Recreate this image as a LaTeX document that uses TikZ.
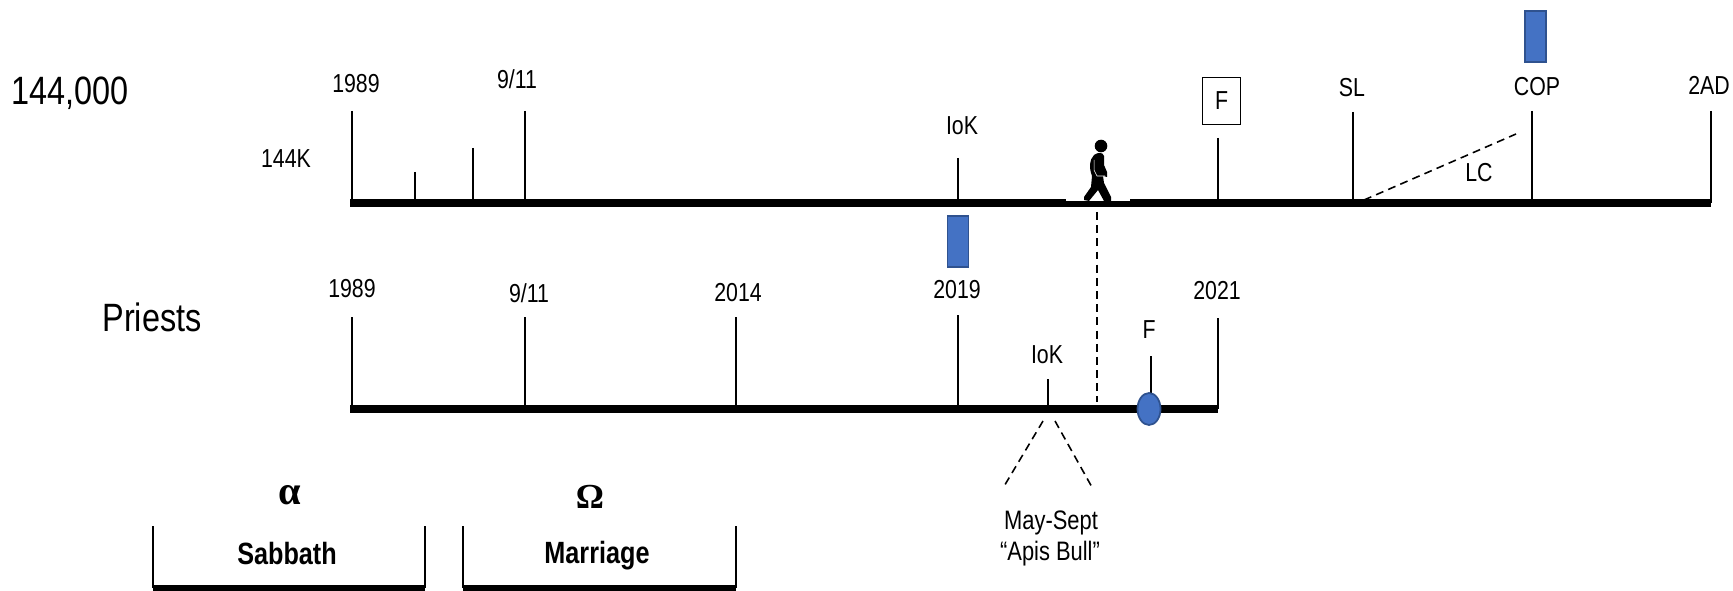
\documentclass[tikz,border=0pt]{standalone}
\usepackage{fontspec}
\usetikzlibrary{shapes.geometric}
\setmainfont{Liberation Sans}[FakeStretch=0.82]
\newfontfamily\greekfont{Liberation Serif}
\definecolor{barblue}{HTML}{4472C4}
\definecolor{baredge}{HTML}{2F528F}
\tikzset{
  lbl/.style={inner sep=0pt,font=\fontsize{14.8}{16}\selectfont},
  smalllbl/.style={inner sep=0pt,font=\fontsize{15.2}{17}\selectfont},
  biglbl/.style={inner sep=0pt,font=\fontsize{22.5}{24}\selectfont},
  boldlbl/.style={inner sep=0pt,font=\fontsize{17.5}{19}\selectfont\bfseries},
  greeklbl/.style={inner sep=0pt,font=\fontsize{20}{22}\selectfont\greekfont\bfseries},
  axisline/.style={line width=4.2pt},
  tick/.style={line width=0.9pt},
  dashline/.style={line width=0.9pt,dash pattern=on 4.5pt off 3pt},
  bluebar/.style={draw=baredge,fill=barblue,line width=1pt,inner sep=0pt},
}
\begin{document}
\begin{tikzpicture}[x=0.02cm,y=-0.02cm]
  \useasboundingbox (0,0) rectangle (1733,591);
  % top line
  \coordinate (topL) at (350,203);
  \coordinate (topR) at (1711,203);
  \coordinate (topA) at (352,111);
  \coordinate (topB) at (415,172);
  \coordinate (topC) at (473,148);
  \coordinate (topD) at (525,111);
  \coordinate (topE) at (958,158);
  \coordinate (topF) at (1218,138);
  \coordinate (topG) at (1353,112);
  \coordinate (topH) at (1532,111);
  \coordinate (topI) at (1711,111);
  \draw[axisline] (topL) -- (topR);
  \foreach \t in {A,B,C,D,E,F,G,H,I}
    \draw[tick] (top\t) -- (top\t |- topL);
  \node[lbl] (n144k) at (286,159) {144K};
  \node[biglbl] (n144000) at (70,93) {144,000};
  \node[lbl] (topyearA) at (356,84) {1989};
  \node[lbl] (topyearD) at (517,79) {9/11};
  \node[lbl] (topiok) at (962,126) {IoK};
  \node[lbl,draw,line width=0.8pt,minimum width=38*0.02cm,minimum height=47*0.02cm] (boxF) at (1221.5,101) {F};
  \node[lbl] (topsl) at (1352,88) {SL};
  \node[lbl] (topcop) at (1537,87) {COP};
  \node[lbl] (top2ad) at (1709,85) {2AD};
  \node[lbl] (lc) at (1479,173) {LC};
  \node[bluebar,minimum width=21*0.02cm,minimum height=51*0.02cm] (barcop) at (1535.5,36.5) {};
  \node[bluebar,minimum width=21*0.02cm,minimum height=51*0.02cm] (bar2019) at (958,241.5) {};
  \coordinate (lcA) at (1364,200);
  \coordinate (lcB) at (1516,134);
  \draw[dashline] (lcA) -- (lcB);
  % walking man
  \draw[white,line width=0.6pt] (1066,200) -- (1130,200);
  \fill (1101,146) circle (6.3);
  \fill (1094,155) .. controls (1098,152) and (1103,152) .. (1104,156)
    -- (1104,165) -- (1107,172) -- (1107,177) -- (1103,176) -- (1104,183)
    -- (1111,197) -- (1111,201) -- (1104,201) -- (1098,190) -- (1089,201)
    -- (1084,200) -- (1084,197) -- (1091,187) -- (1092,176)
    .. controls (1089,168) and (1089,160) .. (1094,155) -- cycle;
  \draw[white,line width=0.3pt] (1094,160) -- (1094,170) -- (1097,176) -- (1105,176);
  \coordinate (walkA) at (1097,212);
  \coordinate (walkB) at (1097,402);
  \draw[dashline] (walkA) -- (walkB);
  % bottom line
  \coordinate (lowL) at (350,409);
  \coordinate (lowR) at (1218,409);
  \coordinate (lowA) at (352,317);
  \coordinate (lowB) at (525,317);
  \coordinate (lowC) at (736,317);
  \coordinate (lowD) at (958,315);
  \coordinate (lowE) at (1048,379);
  \coordinate (lowF) at (1151,356);
  \coordinate (lowG) at (1218,318);
  \draw[axisline] (lowL) -- (lowR);
  \foreach \t in {A,B,C,D,E,F,G}
    \draw[tick] (low\t) -- (low\t |- lowL);
  \node[bluebar,ellipse,minimum width=23*0.02cm,minimum height=32*0.02cm] (oval) at (1149,409) {};
  \node[biglbl] (priests) at (152,317) {Priests};
  \node[lbl] (lowyearA) at (352,289) {1989};
  \node[lbl] (lowyearB) at (529,293) {9/11};
  \node[lbl] (lowyearC) at (738,293) {2014};
  \node[lbl] (lowyearD) at (957,290) {2019};
  \node[lbl] (lowyearG) at (1217,291) {2021};
  \node[lbl] (lowiok) at (1047,355) {IoK};
  \node[lbl] (lowf) at (1149,330) {F};
  \coordinate (iokA) at (1043,421);
  \coordinate (iokB) at (1003,488);
  \coordinate (iokC) at (1055,421);
  \coordinate (iokD) at (1093,489);
  \draw[dashline] (iokA) -- (iokB);
  \draw[dashline] (iokC) -- (iokD);
  \node[smalllbl] (may) at (1051,523) {May-Sept};
  \node[smalllbl] (apis) at (1050,554) {``Apis Bull''};
  % brackets
  \coordinate (sabA) at (153,526);
  \coordinate (sabB) at (425,526);
  \coordinate (marA) at (463,526);
  \coordinate (marB) at (736,526);
  \coordinate (sabY) at (0,588);
  \draw[tick] (sabA) -- (sabA |- sabY);
  \draw[tick] (sabB) -- (sabB |- sabY);
  \draw[tick] (marA) -- (marA |- sabY);
  \draw[tick] (marB) -- (marB |- sabY);
  \draw[line width=3.2pt] (sabA |- sabY) -- (sabB |- sabY);
  \draw[line width=3.2pt] (marA |- sabY) -- (marB |- sabY);
  \node[greeklbl,font=\fontsize{23}{24}\selectfont\greekfont\bfseries] (alpha) at (290,495) {α};
  \node[greeklbl] (omega) at (590,497) {Ω};
  \node[boldlbl] (sabbath) at (287,554) {Sabbath};
  \node[boldlbl] (marriage) at (597,556) {Marriage};
\end{tikzpicture}
\end{document}
